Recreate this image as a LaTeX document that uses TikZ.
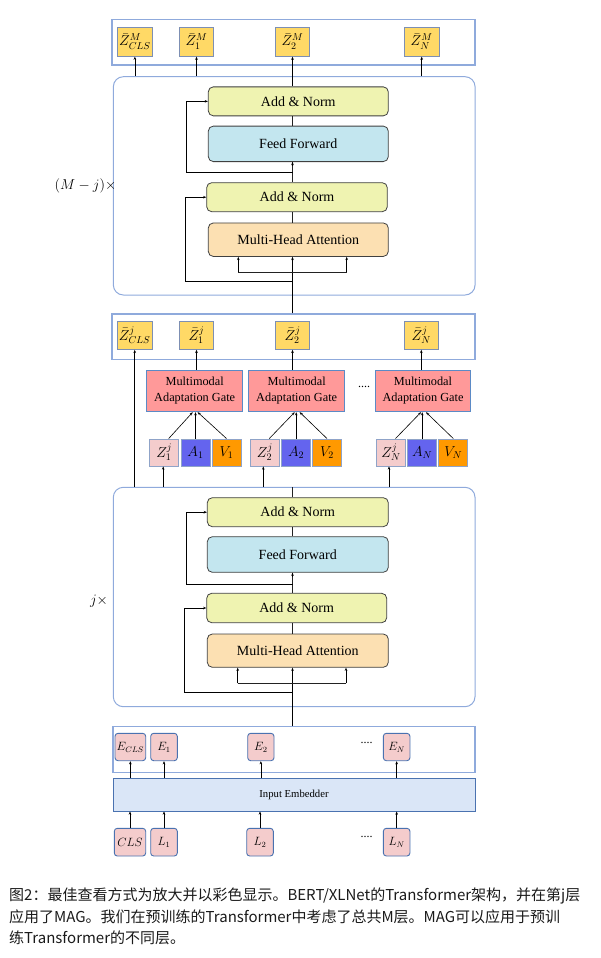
\documentclass[tikz,border=0pt]{standalone}
\usepackage{fontspec}
\setmainfont{Liberation Serif}
\newfontfamily\cjk{Noto Sans CJK SC}
\usetikzlibrary{arrows.meta,calc}
\definecolor{zgold}{HTML}{FFD966}
\definecolor{zbord}{HTML}{7D8FB3}
\definecolor{contb}{HTML}{8FAADC}
\definecolor{outerb}{HTML}{8FAADC}
\definecolor{blkbord}{HTML}{404040}
\definecolor{anfill}{HTML}{EFF3B1}
\definecolor{fffill}{HTML}{C3E6EF}
\definecolor{mhafill}{HTML}{FCE0B2}
\definecolor{magfill}{HTML}{FF9999}
\definecolor{magbord}{HTML}{5B8AC6}
\definecolor{zsfill}{HTML}{F4CCCC}
\definecolor{smbord}{HTML}{8FA3C8}
\definecolor{afill}{HTML}{6464EE}
\definecolor{vfill}{HTML}{FF9900}
\definecolor{efill}{HTML}{F4CCCC}
\definecolor{ebord}{HTML}{4A72B0}
\definecolor{iefill}{HTML}{DAE6F7}
\definecolor{lncol}{HTML}{222222}
\definecolor{captxt}{HTML}{1A1A1A}
\begin{document}
\begin{tikzpicture}[x=1pt,y=-1pt,
  zb/.style={draw=zbord, fill=zgold, line width=0.9pt, inner sep=0pt, minimum width=34.5pt, minimum height=29pt, font=\fontsize{14.4}{16}\selectfont},
  cont/.style={draw=contb, line width=1.1pt, inner sep=0pt},
  outerbox/.style={draw=outerb, line width=1pt, rounded corners=10pt, inner sep=0pt},
  blk/.style={draw=blkbord, line width=0.8pt, rounded corners=5pt, inner sep=0pt, minimum width=180pt, font=\fontsize{14}{16}\selectfont},
  anb/.style={blk, fill=anfill, minimum height=29pt},
  ffb/.style={blk, fill=fffill, minimum height=35.5pt},
  mhab/.style={blk, fill=mhafill, minimum height=33.5pt},
  magb/.style={draw=magbord, fill=magfill, line width=1pt, inner sep=0pt, minimum width=95.5pt, minimum height=41.7pt, align=center, font=\fontsize{12.3}{16}\selectfont},
  smb/.style={draw=smbord, line width=0.9pt, inner sep=0pt, minimum width=29pt, minimum height=27pt, font=\fontsize{14.4}{16}\selectfont},
  zsb/.style={smb, fill=zsfill},
  asb/.style={smb, fill=afill},
  vsb/.style={smb, fill=vfill},
  ebx/.style={draw=ebord, fill=efill, line width=0.9pt, rounded corners=3pt, inner sep=0pt, minimum width=26.6pt, minimum height=27.4pt, font=\fontsize{12}{14}\selectfont},
  arr/.style={-{Stealth[length=3.2pt,width=2.6pt]}, line width=0.6pt, draw=black},
  cline/.style={line width=0.8pt, draw=lncol},
  dotsl/.style={font=\fontsize{12}{14}\selectfont, inner sep=0pt},
  capt/.style={anchor=base west, inner sep=0pt, text=captxt, font=\cjk\fontsize{15}{22}\selectfont}
]
\useasboundingbox (0,0) rectangle (600,958);

% ---------- top output bar ----------
\node[cont, minimum width=363pt, minimum height=45.5pt] (topc) at (293.5,42.25) {};
\node[zb] (zmc) at (134.9,41.7) {$\bar{Z}^{M}_{CLS}$};
\node[zb] (zm1) at (196.5,41.7) {$\bar{Z}^{M}_{1}$};
\node[zb] (zm2) at (292.5,41.7) {$\bar{Z}^{M}_{2}$};
\node[zb] (zmn) at (421.7,41.7) {$\bar{Z}^{M}_{N}$};

% ---------- upper transformer ----------
\node[outerbox, minimum width=361.7pt, minimum height=218.3pt] (ou) at (294.2,185.85) {};
\node[anb] (an1u) at (298.3,101.35) {Add \& Norm};
\node[ffb] (ffu) at (298.3,143.85) {Feed Forward};
\node[anb, minimum width=180.6pt] (an2u) at (297,197.2) {Add \& Norm};
\node[mhab] (mhau) at (298.3,239.7) {Multi-Head Attention};
\node[font=\fontsize{14}{16}\selectfont, inner sep=0pt] (mjl) at (85.5,186) {$(M-j)\times$};

% ---------- middle bar ----------
\node[cont, minimum width=363pt, minimum height=45.3pt] (midc) at (293.5,336.65) {};
\node[zb, minimum height=28.3pt] (zjc) at (134.7,335.2) {$\bar{Z}^{j}_{CLS}$};
\node[zb, minimum height=28.3pt] (zj1) at (196.5,335.2) {$\bar{Z}^{j}_{1}$};
\node[zb, minimum height=28.3pt] (zj2) at (292.5,335.2) {$\bar{Z}^{j}_{2}$};
\node[zb, minimum height=28.3pt] (zjn) at (421.3,335.2) {$\bar{Z}^{j}_{N}$};

\node[magb] (mag1) at (194.7,390.85) {Multimodal\\Adaptation Gate};
\node[magb] (mag2) at (296.7,390.85) {Multimodal\\Adaptation Gate};
\node[magb] (mag3) at (423,390.85) {Multimodal\\Adaptation Gate};
\node[dotsl] (dmag) at (364,387) {....};

\node[zsb] (zs1) at (164.2,452.5) {$Z^{j}_{1}$};
\node[asb] (as1) at (195.5,452.5) {$A_1$};
\node[vsb] (vs1) at (226.5,452.5) {$V_1$};
\node[zsb] (zs2) at (264.8,452.5) {$Z^{j}_{2}$};
\node[asb] (as2) at (296.2,452.5) {$A_2$};
\node[vsb] (vs2) at (327,452.5) {$V_2$};
\node[zsb] (zsn) at (391,452.5) {$Z^{j}_{N}$};
\node[asb] (asn) at (422.2,452.5) {$A_N$};
\node[vsb] (vsn) at (453.3,452.5) {$V_N$};

% ---------- lower transformer ----------
\node[outerbox, minimum width=361.7pt, minimum height=219.4pt] (ol) at (294.15,597) {};
\node[anb, minimum width=181pt] (an1l) at (297.8,512.2) {Add \& Norm};
\node[ffb, minimum width=181pt, minimum height=35.6pt] (ffl) at (297.8,554.5) {Feed Forward};
\node[anb, minimum height=29.4pt] (an2l) at (296.7,608) {Add \& Norm};
\node[mhab, minimum width=181pt, minimum height=33.3pt] (mhal) at (297.8,650.65) {Multi-Head Attention};
\node[font=\fontsize{14}{16}\selectfont, inner sep=0pt] (jl) at (99,601) {$j\times$};

% ---------- embeddings ----------
\node[cont, minimum width=362pt, minimum height=45.6pt] (embc) at (294,749.5) {};
\node[ebx, minimum width=30.7pt] (ecls) at (130.35,747) {$E_{CLS}$};
\node[ebx] (e1) at (164,747) {$E_1$};
\node[ebx, minimum width=26.3pt] (e2) at (260.85,747) {$E_2$};
\node[ebx] (en) at (396.65,747) {$E_N$};
\node[dotsl] (demb) at (366.7,743) {....};

\node[draw=ebord, fill=iefill, line width=1pt, inner sep=0pt, minimum width=362pt, minimum height=32.7pt, font=\fontsize{10.7}{12}\selectfont] (ie) at (294,794.65) {Input Embedder};

\node[ebx, minimum width=31.4pt, minimum height=27.7pt] (lcls) at (130,842.15) {$CLS$};
\node[ebx, minimum height=27.7pt] (l1) at (164,842.15) {$L_1$};
\node[ebx, minimum height=27.7pt] (l2) at (260,842.15) {$L_2$};
\node[ebx, minimum height=27.7pt] (lnn) at (396.65,842.15) {$L_N$};
\node[dotsl] (dl) at (366.7,836.5) {....};

% ---------- connectors: top ----------
\draw[arr] (ou.north -| zmc) -- (zmc.south);
\draw[arr] (ou.north -| zm1) -- (zm1.south);
\draw[arr] (an1u.north -| zm2) -- (zm2.south);
\draw[arr] (ou.north -| zmn) -- (zmn.south);

% upper transformer internals
\draw[cline] (ffu.north -| zm2) -- (an1u.south -| zm2);
\draw[cline] (an2u.north -| zm2) -- (ffu.south -| zm2);
\draw[arr] ($(ffu.south -| zm2)+(0,4)$) -- (ffu.south -| zm2);
\draw[cline] (mhau.north -| zm2) -- (an2u.south -| zm2);
\draw[arr] (midc.north -| zm2) -- (mhau.south -| zm2);
\coordinate (r1u) at (186,172.7);
\draw[arr] (r1u -| zm2) -- (r1u) |- (an1u.west);
\coordinate (r2u) at (185,281.7);
\draw[arr] (r2u -| zm2) -- (r2u) |- (an2u.west);
\coordinate (bu1) at (238.3,272.3);
\coordinate (bu2) at (346.7,272.3);
\draw[cline] (bu1) -- (bu2);
\draw[arr] (bu1) -- (bu1 |- mhau.south);
\draw[arr] (bu2) -- (bu2 |- mhau.south);

% ---------- middle ----------
\draw[arr] (mag1.north -| zj1) -- (zj1.south);
\draw[arr] (mag2.north -| zj2) -- (zj2.south);
\draw[arr] (mag3.north -| zjn) -- (zjn.south);

\draw[arr] ($(zs1.north)+(4.5,0)$) -- ($(mag1.south)+(-2,0)$);
\draw[arr] (as1.north) -- (as1.north |- mag1.south);
\draw[arr] (vs1.north) -- ($(mag1.south)+(3,0)$);
\draw[arr] ($(zs2.north)+(4.5,0)$) -- ($(mag2.south)+(-2,0)$);
\draw[arr] (as2.north) -- (as2.north |- mag2.south);
\draw[arr] (vs2.north) -- ($(mag2.south)+(3,0)$);
\draw[arr] ($(zsn.north)+(4.5,0)$) -- ($(mag3.south)+(-2,0)$);
\draw[arr] (asn.north) -- (asn.north |- mag3.south);
\draw[arr] (vsn.north) -- ($(mag3.south)+(3,0)$);

\draw[arr] (ol.north -| zjc) -- (zjc.south);
\draw[arr] ($(ol.north -| zs1)+(-1,0)$) -- ($(zs1.south)+(-1,0)$);
\draw[arr] ($(ol.north -| zs2)+(-1.5,0)$) -- ($(zs2.south)+(-1.5,0)$);
\draw[arr] ($(ol.north -| zsn)+(-2,0)$) -- ($(zsn.south)+(-2,0)$);

% ---------- lower transformer internals ----------
\draw[cline] (an1l.north -| zj2) -- (ol.north -| zj2);
\draw[cline] (ffl.north -| zj2) -- (an1l.south -| zj2);
\draw[cline] (an2l.north -| zj2) -- (ffl.south -| zj2);
\draw[arr] ($(ffl.south -| zj2)+(0,4)$) -- (ffl.south -| zj2);
\draw[cline] (mhal.north -| zj2) -- (an2l.south -| zj2);
\draw[arr] (embc.north -| zj2) -- (mhal.south -| zj2);
\coordinate (r1l) at (186,584);
\draw[arr] (r1l -| zj2) -- (r1l) |- (an1l.west);
\coordinate (r2l) at (184.3,692.3);
\draw[arr] (r2l -| zj2) -- (r2l) |- (an2l.west);
\coordinate (bl1) at (237.7,683.3);
\coordinate (bl2) at (346,683.3);
\draw[cline] (bl1) -- (bl2);
\draw[arr] (bl1) -- (bl1 |- mhal.south);
\draw[arr] (bl2) -- (bl2 |- mhal.south);

% ---------- embedding connectors ----------
\draw[arr] (ie.north -| ecls) -- (ecls.south);
\draw[arr] (ie.north -| e1) -- (e1.south);
\draw[arr] (ie.north -| e2) -- (e2.south);
\draw[arr] (ie.north -| en) -- (en.south);
\draw[arr] (lcls.north) -- (lcls.north |- ie.south);
\draw[arr] (l1.north) -- (l1.north |- ie.south);
\draw[arr] (l2.north) -- (l2.north |- ie.south);
\draw[arr] (lnn.north) -- (lnn.north |- ie.south);

% ---------- caption ----------
\node[capt] (cap1) at (9,900) {图2：最佳查看方式为放大并以彩色显示。BERT/XLNet的Transformer架构，并在第j层};
\node[capt] (cap2) at (9,922) {应用了MAG。我们在预训练的Transformer中考虑了总共M层。MAG可以应用于预训};
\node[capt] (cap3) at (9,943.5) {练Transformer的不同层。};
\end{tikzpicture}
\end{document}
